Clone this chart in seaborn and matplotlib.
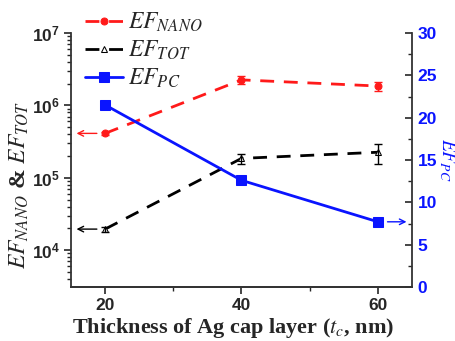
import numpy as np
import pandas as pd
import matplotlib
matplotlib.use("Agg")
import matplotlib.pyplot as plt
import seaborn as sns
from matplotlib.ticker import LogLocator, MultipleLocator, NullFormatter

thickness = [20, 40, 60]
ef_nano = [4.1e5, 2.25e6, 1.85e6]
ef_nano_err = [0.2e5, 0.3e6, 0.25e6]
ef_tot = [1.95e4, 1.85e5, 2.25e5]
ef_tot_err = [0.15e4, 0.3e5, 0.7e5]
ef_pc = [21.5, 12.6, 7.7]

sns.set_style("ticks")
plt.rcParams['font.family'] = ['Liberation Sans', 'DejaVu Sans']
plt.rcParams['mathtext.fontset'] = 'stix'

fig = plt.figure(figsize=(4.56, 3.41), dpi=100)
ax = fig.add_axes([71/456, 1-287/341, (412-71)/456, (287-33)/341])
ax2 = ax.twinx()

df = pd.DataFrame({"t": thickness, "nano": ef_nano, "tot": ef_tot, "pc": ef_pc})

sns.lineplot(data=df, x="t", y="nano", ax=ax, color="#ff1a1a", lw=2,
             linestyle=(0, (5, 3.5)), marker="o", markersize=5,
             markeredgecolor="#ff1a1a", label=r"$\mathit{EF}_{\mathit{NANO}}$", legend=False)
sns.lineplot(data=df, x="t", y="tot", ax=ax, color="black", lw=2,
             linestyle=(0, (5, 3.5)), marker="^", markersize=5,
             markerfacecolor="white", markeredgecolor="black",
             label=r"$\mathit{EF}_{\mathit{TOT}}$", legend=False)
ax.errorbar(thickness, ef_nano, yerr=ef_nano_err, fmt="none", ecolor="#ff1a1a", capsize=3, lw=1)
ax.errorbar(thickness, ef_tot, yerr=ef_tot_err, fmt="none", ecolor="black", capsize=3, lw=1)

sns.lineplot(data=df, x="t", y="pc", ax=ax2, color="#0a14ff", lw=2,
             marker="s", markersize=7, markeredgecolor="#0a14ff",
             label=r"$\mathit{EF}_{\mathit{PC}}$", legend=False)

ax.set_yscale("log")
ax.set_xlim(15, 65)
ax.set_ylim(10**3.49, 1e7)
ax2.set_ylim(0, 30)

ax.set_xticks([20, 40, 60])
ax.xaxis.set_minor_locator(MultipleLocator(10))
ax.yaxis.set_major_locator(LogLocator(base=10, numticks=10))
ax.yaxis.set_minor_locator(LogLocator(base=10, subs=np.arange(2, 10), numticks=20))
ax.yaxis.set_minor_formatter(NullFormatter())
ax2.yaxis.set_major_locator(MultipleLocator(5))
ax2.yaxis.set_minor_locator(MultipleLocator(2.5))

ax.tick_params(which="major", direction="out", length=5, width=1.2, labelsize=12.5, pad=3)
ax.tick_params(which="minor", direction="out", length=3, width=1)
ax2.tick_params(which="major", direction="in", length=5, width=1.2, labelsize=12.5, pad=4)
ax2.tick_params(which="minor", direction="in", length=3, width=1)
for a in (ax, ax2):
    for s in a.spines.values():
        s.set_linewidth(1.3)
        s.set_color("#333333")
    a.spines["top"].set_visible(False)
for lab in ax.get_xticklabels() + ax.get_yticklabels():
    lab.set_fontweight("bold")
for lab in ax2.get_yticklabels():
    lab.set_fontweight("bold")
    lab.set_color("#0a14ff")
ax.spines["right"].set_visible(False)
ax2.spines["left"].set_visible(False)

ax.set_xlabel(r"Thickness of Ag cap layer ($\mathit{t_c}$, nm)", fontsize=16,
              fontweight="bold", family="Liberation Serif")
ax.xaxis.set_label_coords((233 - 71) / 341, (287 - 316) / 254)
ax.set_ylabel(r"$\mathit{EF}_{\mathit{NANO}}$ & $\mathit{EF}_{\mathit{TOT}}$",
              fontsize=17, fontweight="bold", family="Liberation Serif")
ax.yaxis.set_label_coords((31 - 71) / 341, (287 - 185) / 254)
ax2.set_ylabel(r"$\mathit{EF}_{\mathit{PC}}$", fontsize=14, color="#0a14ff",
               rotation=270, va="center", ha="center", rotation_mode="default")
ax2.yaxis.set_label_coords((447 - 71) / 341, (287 - 160) / 254)

# arrows pointing to axes
ax.annotate("", xy=(15.4, ef_nano[0]), xytext=(19.2, ef_nano[0]),
            arrowprops=dict(arrowstyle="->", color="#ff1a1a", lw=1))
ax.annotate("", xy=(15.4, ef_tot[0]), xytext=(19.2, ef_tot[0]),
            arrowprops=dict(arrowstyle="->", color="black", lw=1))
ax2.annotate("", xy=(64.6, ef_pc[2]), xytext=(61, ef_pc[2]),
             arrowprops=dict(arrowstyle="->", color="#0a14ff", lw=1))

h1, l1 = ax.get_legend_handles_labels()
h2, l2 = ax2.get_legend_handles_labels()
leg = ax2.legend(h1 + h2, l1 + l2, loc="upper left", bbox_to_anchor=(-0.022, 1.17),
                 frameon=False, fontsize=17, handlelength=1.6, handletextpad=0.25,
                 labelspacing=0.2)

fig.savefig("out.png", dpi=100)
